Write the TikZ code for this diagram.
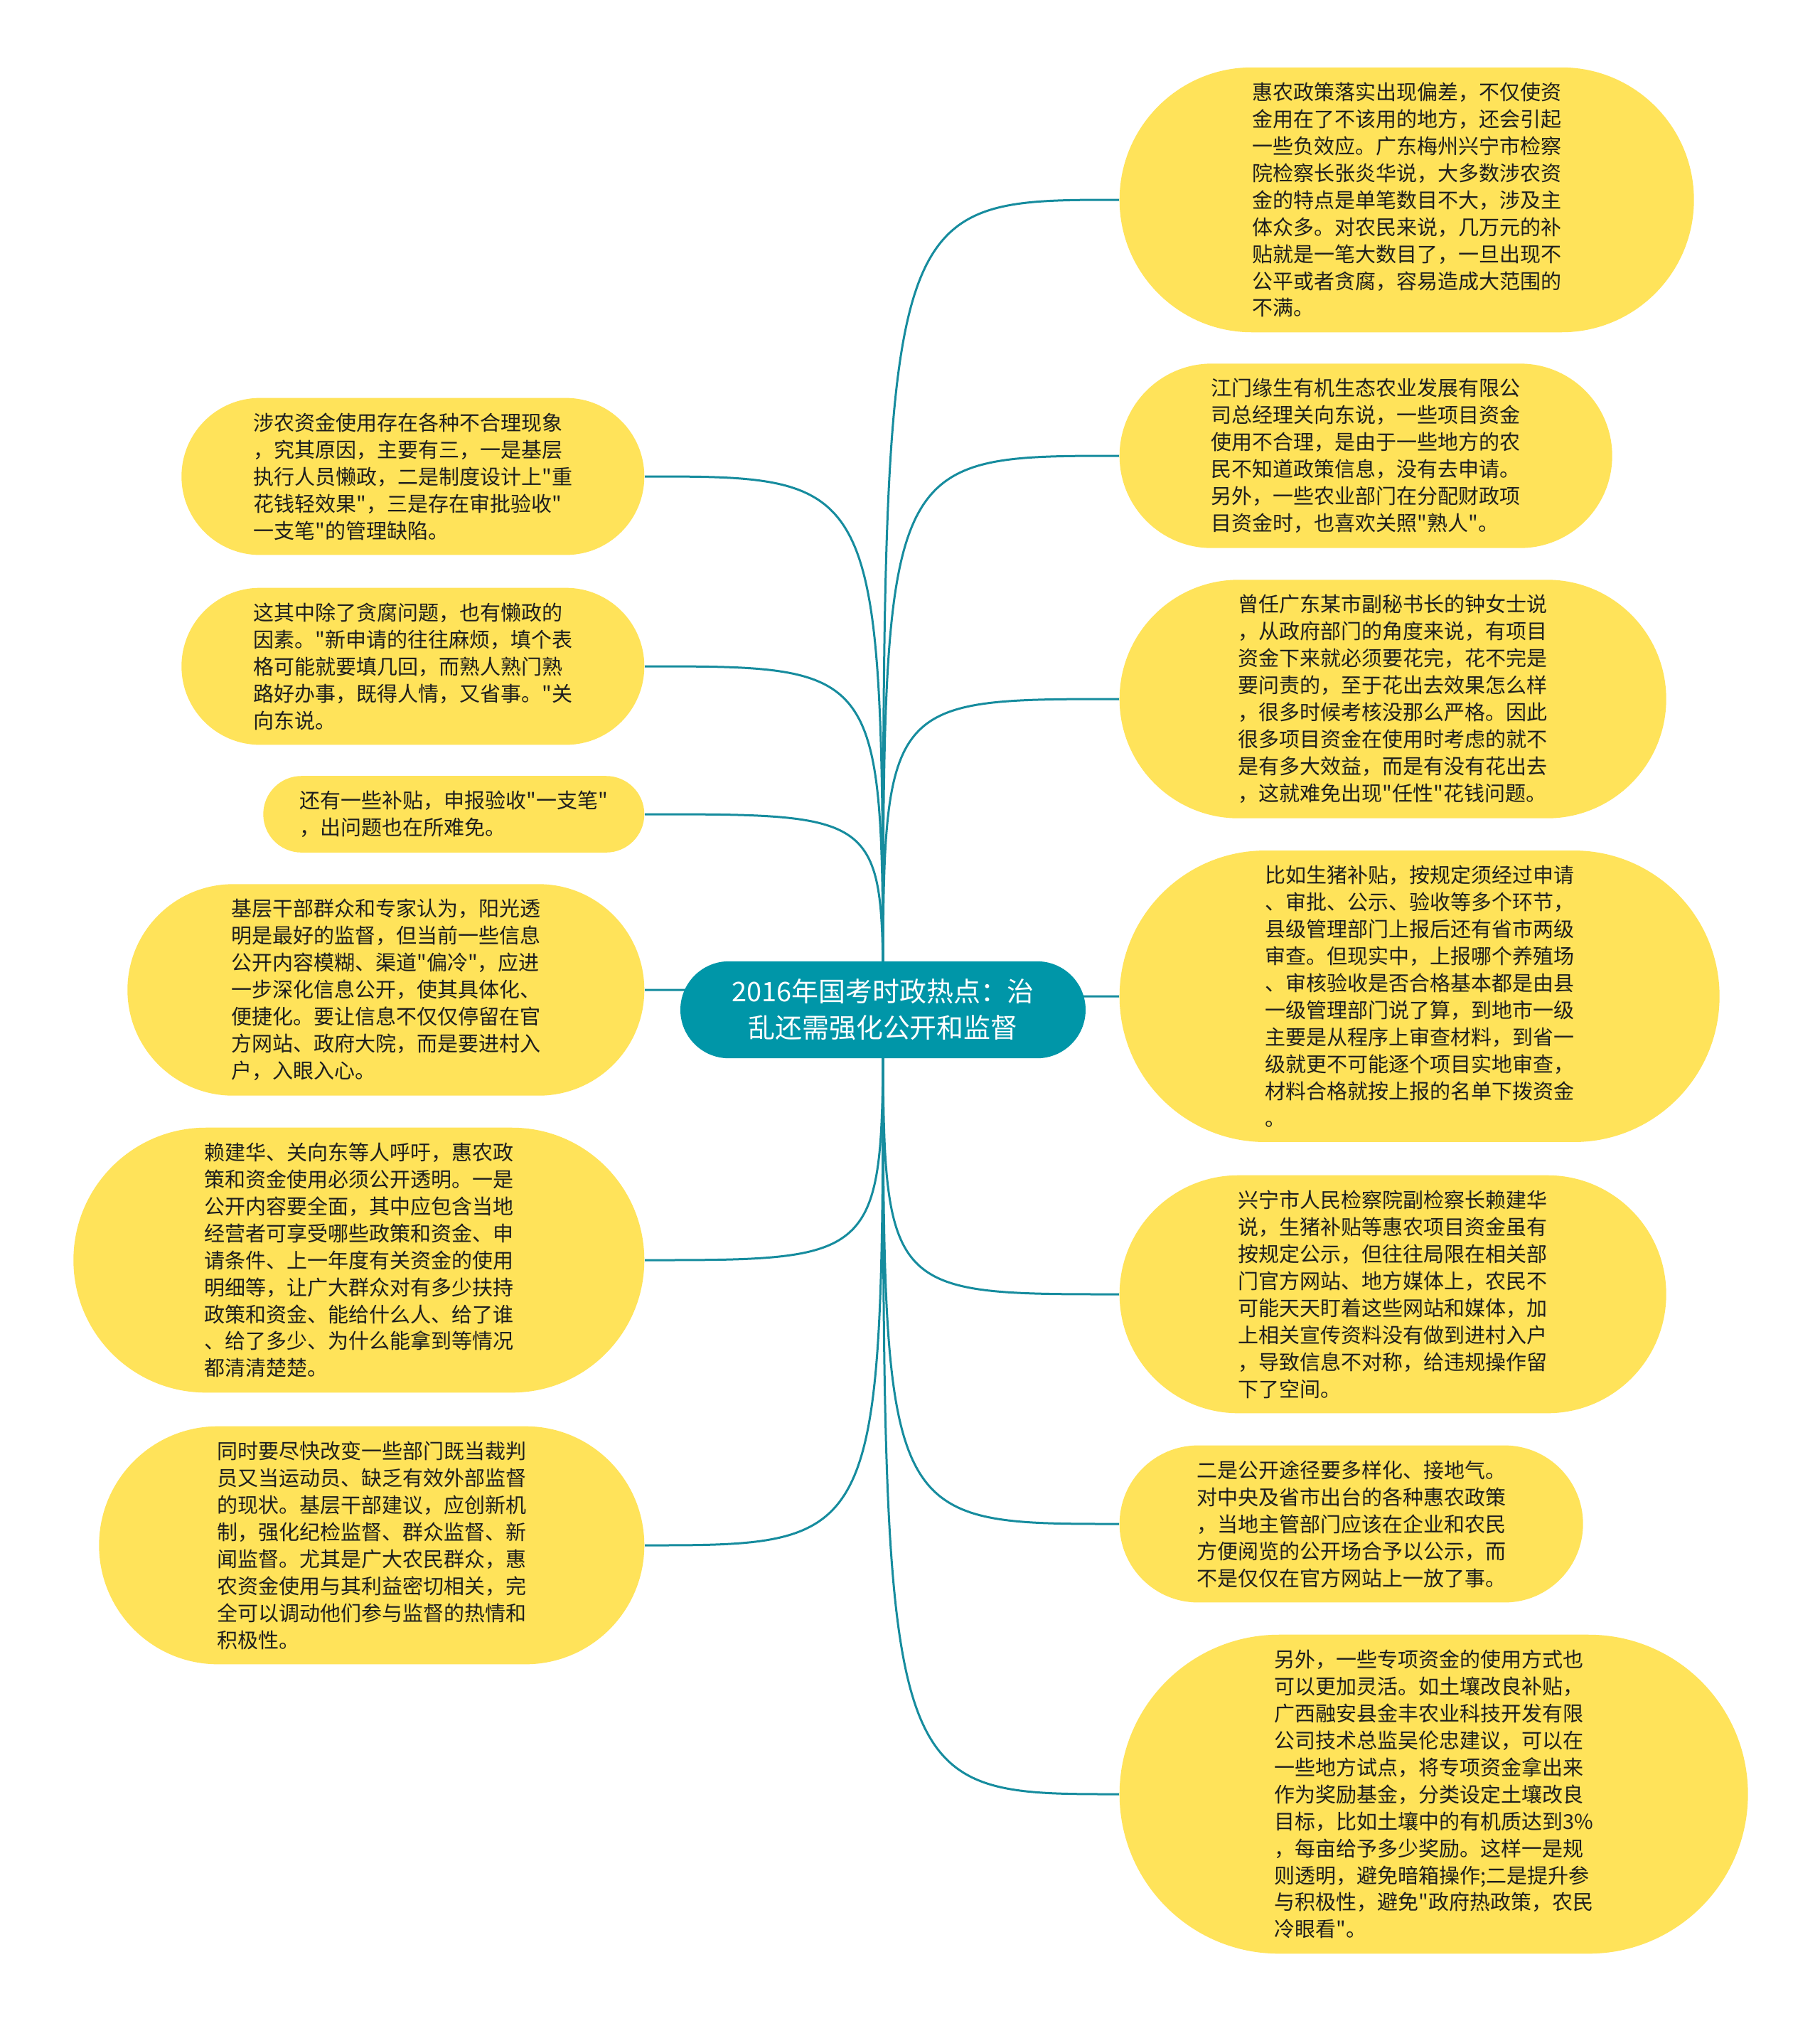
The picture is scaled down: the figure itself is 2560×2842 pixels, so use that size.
\documentclass[tikz,border=0pt]{standalone}
\usepackage{fontspec}
\setmainfont{Noto Sans CJK SC}[Ligatures=TeXOff]
\usetikzlibrary{shapes.misc,backgrounds}
\definecolor{hub}{RGB}{0,150,168}
\definecolor{wire}{RGB}{22,140,158}
\definecolor{leafy}{RGB}{255,227,90}
\definecolor{ink}{RGB}{30,30,30}
\tikzset{
  topic/.style={rounded rectangle,fill=hub,text=white,inner xsep=0.5mm,inner ysep=2.5mm,minimum width=58mm,align=center,font=\fontsize{10.8pt}{14.5pt}\selectfont},
  leaf/.style={rounded rectangle,fill=leafy,text=ink,inner xsep=0.4mm,inner ysep=2.1mm,align=left,font=\fontsize{8.25pt}{10.8pt}\selectfont},
  link/.style={wire,line width=0.3mm},
}

\begin{document}
\begin{tikzpicture}[x=0.1mm,y=-0.1mm]
\useasboundingbox (0,0) rectangle (2560,2842);

% centre
\node[topic] (hub) at (1242,1420) {2016年国考时政热点：治\\乱还需强化公开和监督};

% right branch
\node[leaf, anchor=west, minimum width=81.6mm] (r1) at (1574,281) {惠农政策落实出现偏差，不仅使资\\金用在了不该用的地方，还会引起\\一些负效应。广东梅州兴宁市检察\\院检察长张炎华说，大多数涉农资\\金的特点是单笔数目不大，涉及主\\体众多。对农民来说，几万元的补\\贴就是一笔大数目了，一旦出现不\\公平或者贪腐，容易造成大范围的\\不满。};
\node[leaf, anchor=west, minimum width=70.1mm] (r2) at (1574,641) {江门缘生有机生态农业发展有限公\\司总经理关向东说，一些项目资金\\使用不合理，是由于一些地方的农\\民不知道政策信息，没有去申请。\\另外，一些农业部门在分配财政项\\目资金时，也喜欢关照"熟人"。};
\node[leaf, anchor=west, minimum width=77.7mm] (r3) at (1574,983) {曾任广东某市副秘书长的钟女士说\\，从政府部门的角度来说，有项目\\资金下来就必须要花完，花不完是\\要问责的，至于花出去效果怎么样\\，很多时候考核没那么严格。因此\\很多项目资金在使用时考虑的就不\\是有多大效益，而是有没有花出去\\，这就难免出现"任性"花钱问题。};
\node[leaf, anchor=west, minimum width=85.2mm] (r4) at (1574,1401) {比如生猪补贴，按规定须经过申请\\、审批、公示、验收等多个环节，\\县级管理部门上报后还有省市两级\\审查。但现实中，上报哪个养殖场\\、审核验收是否合格基本都是由县\\一级管理部门说了算，到地市一级\\主要是从程序上审查材料，到省一\\级就更不可能逐个项目实地审查，\\材料合格就按上报的名单下拨资金\\。};
\node[leaf, anchor=west, minimum width=77.7mm] (r5) at (1574,1820) {兴宁市人民检察院副检察长赖建华\\说，生猪补贴等惠农项目资金虽有\\按规定公示，但往往局限在相关部\\门官方网站、地方媒体上，农民不\\可能天天盯着这些网站和媒体，加\\上相关宣传资料没有做到进村入户\\，导致信息不对称，给违规操作留\\下了空间。};
\node[leaf, anchor=west, minimum width=66mm] (r6) at (1574,2143) {二是公开途径要多样化、接地气。\\对中央及省市出台的各种惠农政策\\，当地主管部门应该在企业和农民\\方便阅览的公开场合予以公示，而\\不是仅仅在官方网站上一放了事。};
\node[leaf, anchor=west, minimum width=89.2mm] (r7) at (1574,2523) {另外，一些专项资金的使用方式也\\可以更加灵活。如土壤改良补贴，\\广西融安县金丰农业科技开发有限\\公司技术总监吴伦忠建议，可以在\\一些地方试点，将专项资金拿出来\\作为奖励基金，分类设定土壤改良\\目标，比如土壤中的有机质达到3\%\\，每亩给予多少奖励。这样一是规\\则透明，避免暗箱操作;二是提升参\\与积极性，避免"政府热政策，农民\\冷眼看"。};

% left branch
\node[leaf, anchor=east, minimum width=65.9mm] (l1) at (907,670) {涉农资金使用存在各种不合理现象\\，究其原因，主要有三，一是基层\\执行人员懒政，二是制度设计上"重\\花钱轻效果"，三是存在审批验收"\\一支笔"的管理缺陷。};
\node[leaf, anchor=east, minimum width=65.9mm] (l2) at (907,937) {这其中除了贪腐问题，也有懒政的\\因素。"新申请的往往麻烦，填个表\\格可能就要填几回，而熟人熟门熟\\路好办事，既得人情，又省事。"关\\向东说。};
\node[leaf, anchor=east, minimum width=54.4mm] (l3) at (907,1145) {还有一些补贴，申报验收"一支笔"\\，出问题也在所难免。};
\node[leaf, anchor=east, minimum width=73.5mm] (l4) at (907,1392) {基层干部群众和专家认为，阳光透\\明是最好的监督，但当前一些信息\\公开内容模糊、渠道"偏冷"，应进\\一步深化信息公开，使其具体化、\\便捷化。要让信息不仅仅停留在官\\方网站、政府大院，而是要进村入\\户，入眼入心。};
\node[leaf, anchor=east, minimum width=81.1mm] (l5) at (907,1772) {赖建华、关向东等人呼吁，惠农政\\策和资金使用必须公开透明。一是\\公开内容要全面，其中应包含当地\\经营者可享受哪些政策和资金、申\\请条件、上一年度有关资金的使用\\明细等，让广大群众对有多少扶持\\政策和资金、能给什么人、给了谁\\、给了多少、为什么能拿到等情况\\都清清楚楚。};
\node[leaf, anchor=east, minimum width=77.5mm] (l6) at (907,2173) {同时要尽快改变一些部门既当裁判\\员又当运动员、缺乏有效外部监督\\的现状。基层干部建议，应创新机\\制，强化纪检监督、群众监督、新\\闻监督。尤其是广大农民群众，惠\\农资金使用与其利益密切相关，完\\全可以调动他们参与监督的热情和\\积极性。};

% connectors
\begin{scope}[on background layer]
\fill[white] (0,0) rectangle (2560,2842);
\foreach \i in {1,...,7}
  \draw[link] (hub.center) .. controls (hub.center |- r\i.west) .. (r\i.west);
\foreach \i in {1,...,6}
  \draw[link] (hub.center) .. controls (hub.center |- l\i.east) .. (l\i.east);
\end{scope}
\end{tikzpicture}
\end{document}
